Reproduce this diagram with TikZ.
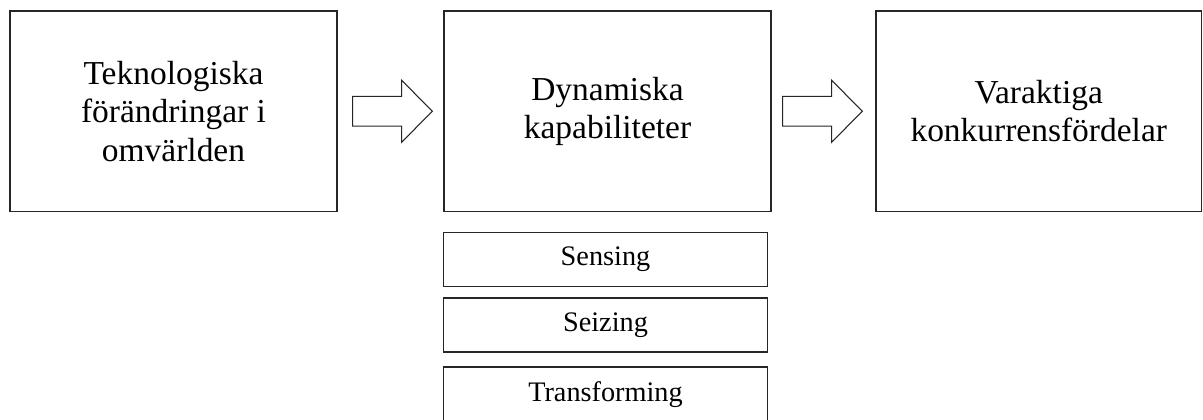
\documentclass[tikz,border=0pt]{standalone}
\usepackage{fontspec}
\setmainfont{Liberation Serif}
\usetikzlibrary{calc}
\begin{document}
\begin{tikzpicture}[x=0.75pt,y=-0.75pt,
  bigbox/.style={draw=black!85,line width=1.3pt,align=center,
    font=\fontsize{25.1}{28.8}\selectfont},
  subbox/.style={draw=black!85,line width=1.3pt,
    font=\fontsize{21.2}{24}\selectfont},
  blockarrow/.style={draw=black!85,line width=0.8pt,line join=miter,fill=white}]
\clip (0,0) rectangle (1203,419);
\fill[white] (0,0) rectangle (1203,419);

% main stages
\node[bigbox,minimum width=327*0.75pt,minimum height=200.5*0.75pt]
  (tech) at (173.5,111.25) {Teknologiska\\förändringar i\\omvärlden};
\node[bigbox,minimum width=327*0.75pt,minimum height=200.5*0.75pt]
  (dyn) at (607.5,111.25) {Dynamiska\\kapabiliteter};
\node[bigbox,minimum width=325.5*0.75pt,minimum height=200.5*0.75pt]
  (adv) at (1038.75,111.25) {Varaktiga\\konkurrensfördelar};

% components of the dynamic capabilities
\node[subbox,minimum width=324*0.75pt,minimum height=54*0.75pt]
  (sense) at (605.5,259.5) {Sensing};
\node[subbox,minimum width=324*0.75pt,minimum height=54.6*0.75pt]
  (seize) at (605.5,325) {Seizing};
\node[subbox,minimum width=324*0.75pt,minimum height=74*0.75pt,
  text depth=0pt,anchor=north] (trans) at (605.5,366) {};
\node[font=\fontsize{21.2}{24}\selectfont] (translabel) at (605.5,395) {Transforming};

% block arrows between the stages
\coordinate (a1) at ($(tech.east)+(14.8,0)$);
\coordinate (a2) at ($(dyn.east)+(10.8,0)$);
\foreach \s in {a1,a2}{
  \draw[blockarrow] (\s) ++(0,-14.8) -- ++(49,0) -- ++(0,-16.2)
    -- ++(30.6,31) -- ++(-30.6,31) -- ++(0,-16.2) -- ++(-49,0) -- cycle;
}
\end{tikzpicture}
\end{document}
